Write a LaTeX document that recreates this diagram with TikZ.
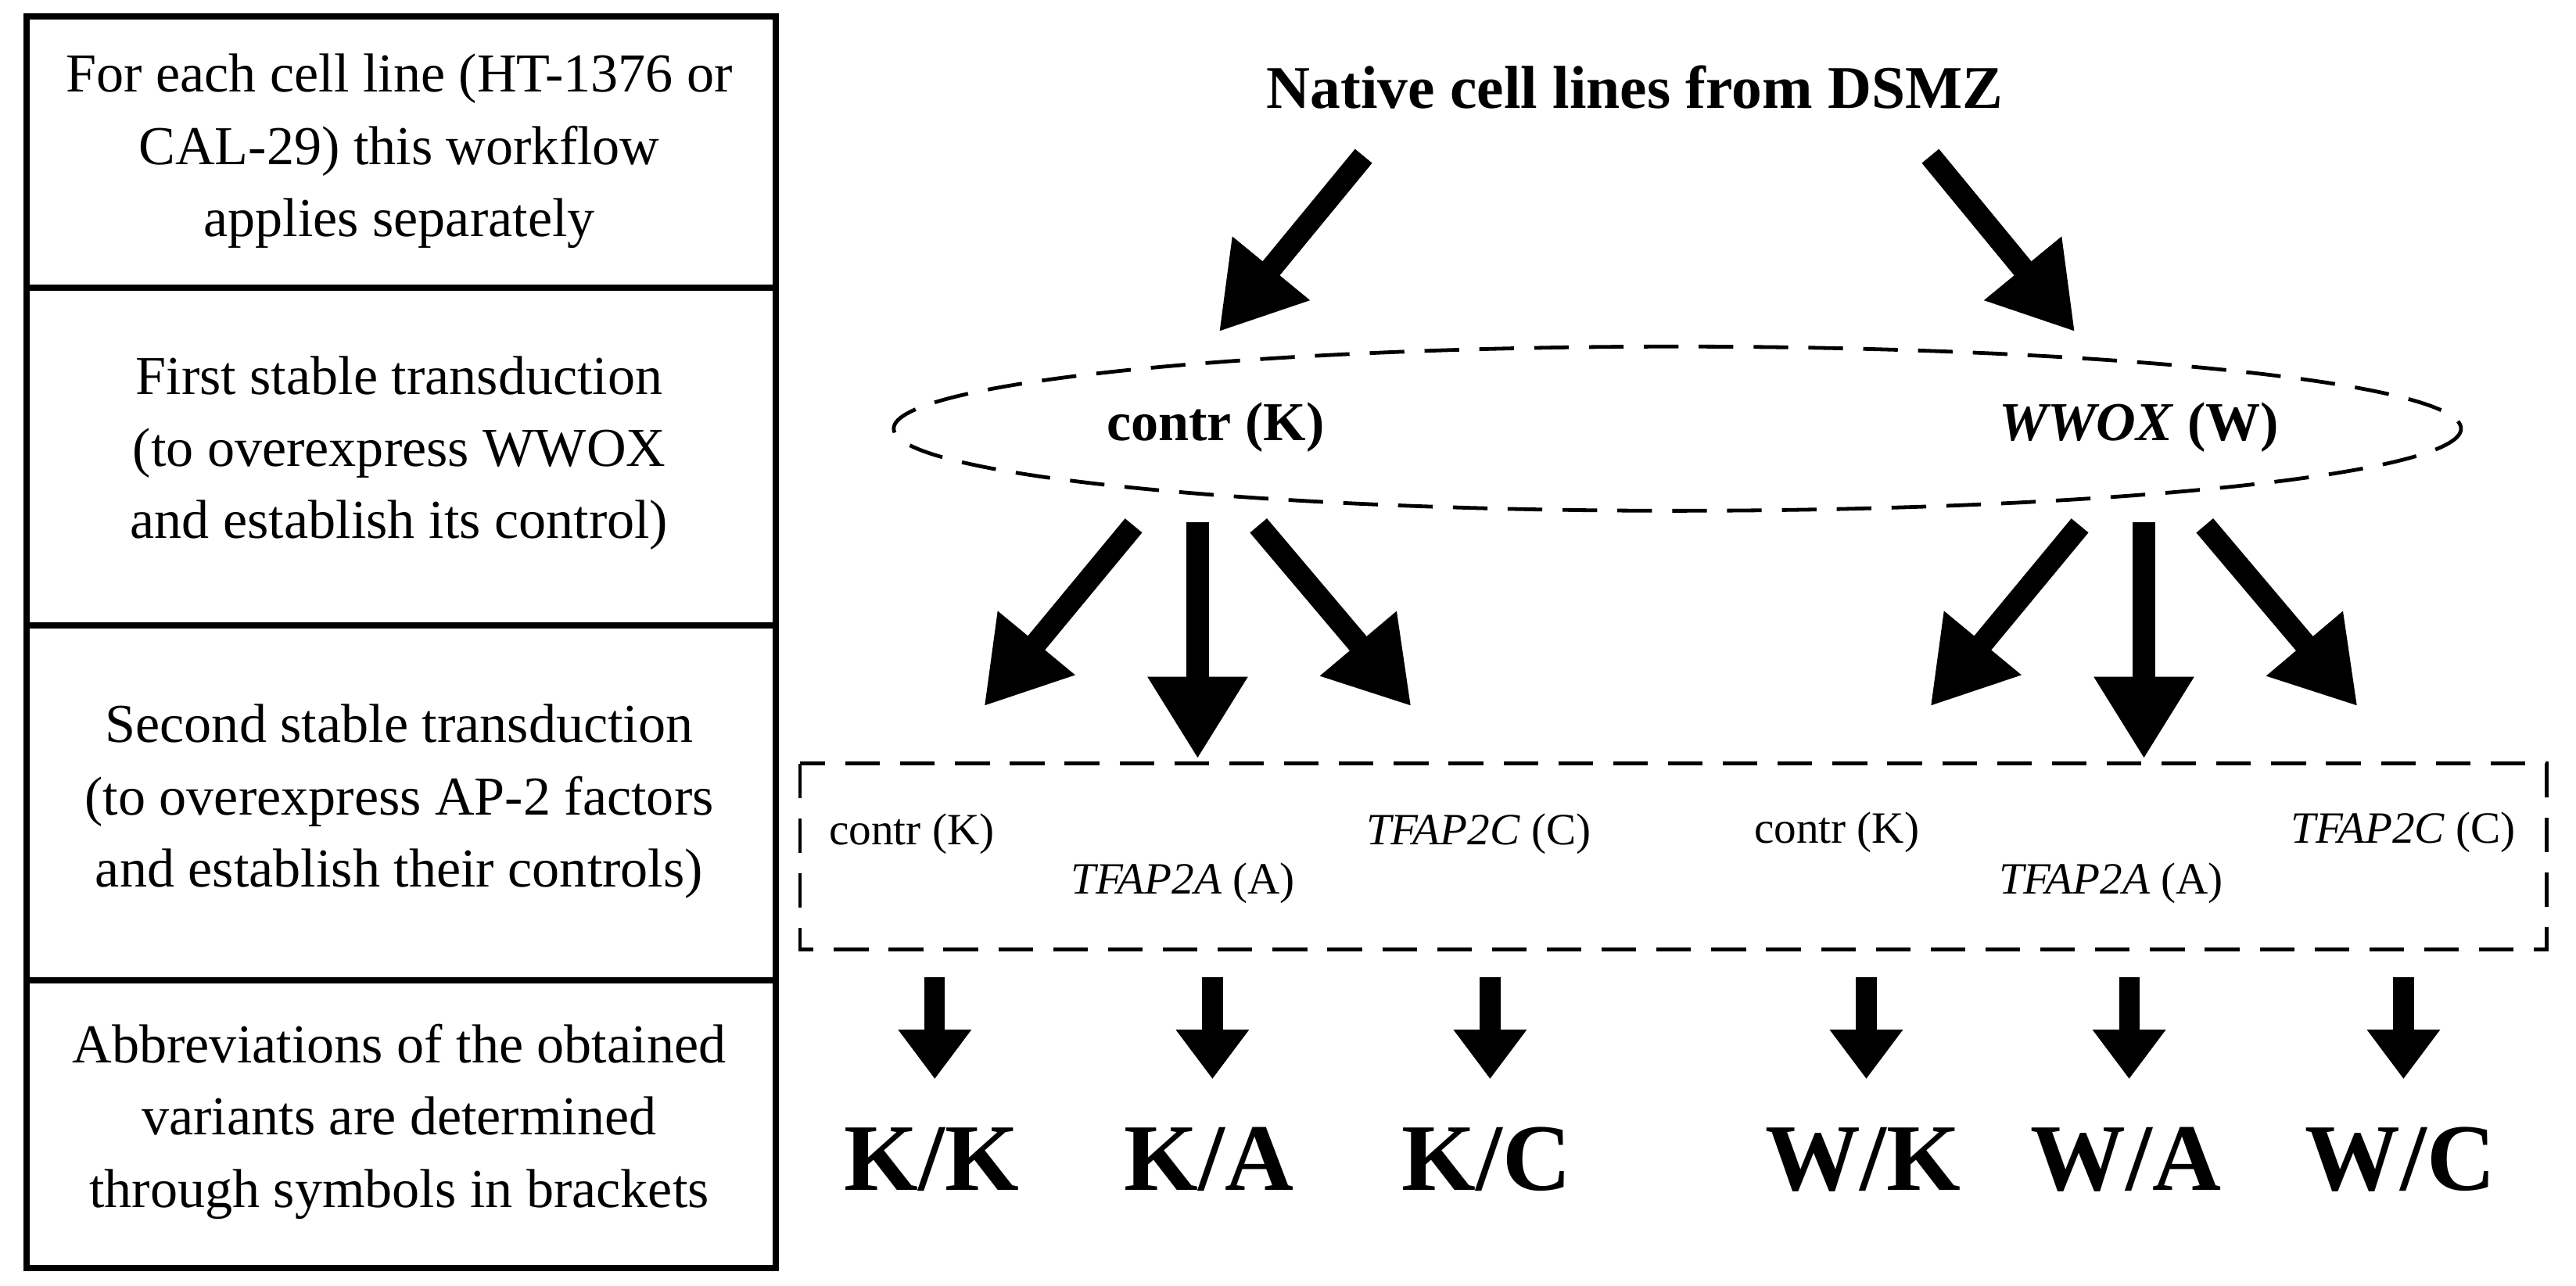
\documentclass[tikz,border=0pt]{standalone}
\usepackage{fontspec}
\setmainfont{Liberation Serif}
\usetikzlibrary{arrows.meta}
\begin{document}
\begin{tikzpicture}[x=0.02cm,y=-0.02cm,
  big/.style={line width=0.27cm,-{Triangle[length=1.0cm,width=1.15cm]}},
  small/.style={line width=0.25cm,-{Triangle[length=0.6cm,width=0.85cm]}},
  lt/.style={align=center,font=\fontsize{19}{25}\selectfont},
  bl/.style={font=\fontsize{15.5}{18}\selectfont},
  res/.style={font=\fontsize{33}{36}\selectfont\bfseries},
  dashline/.style={line width=1.3pt,dash pattern=on 12pt off 7pt}]
\useasboundingbox (0,0) rectangle (1568,782.6);
% left table
\draw[line width=2.2pt] (16,10) rectangle (472,772);
\draw[line width=2.2pt] (16,175) -- (472,175) (16,381) -- (472,381) (16,597) -- (472,597);
\node[lt] (t1) at (243,92) {For each cell line (HT-1376 or\\CAL-29) this workflow\\applies separately};
\node[lt] (t2) at (243,276) {First stable transduction\\(to overexpress WWOX\\and establish its control)};
\node[lt] (t3) at (243,488) {Second stable transduction\\(to overexpress AP-2 factors\\and establish their controls)};
\node[lt] (t4) at (243,683) {Abbreviations of the obtained\\variants are determined\\through symbols in brackets};
% title
\node[font=\fontsize{21}{24}\selectfont\bfseries] (title) at (995,53) {Native cell lines from DSMZ};
\coordinate (s1) at (830,95); \coordinate (e1) at (742,202);
\coordinate (s2) at (1175,95); \coordinate (e2) at (1263,202);
\draw[big] (s1) -- (e1);
\draw[big] (s2) -- (e2);
% ellipse
\draw[dashline] (1021,261) ellipse [x radius=477, y radius=50];
\node[font=\fontsize{19}{22}\selectfont\bfseries] (K) at (740,260) {contr (K)};
\node[font=\fontsize{19}{22}\selectfont\bfseries] (W) at (1302,260) {\textit{WWOX} (W)};
% second arrows
\foreach \x/\n in {729/L,1305/R}{
  \coordinate (\n a) at (\x-39,320); \coordinate (\n ae) at (\x-130,430);
  \coordinate (\n b) at (\x,318);   \coordinate (\n be) at (\x,462);
  \coordinate (\n c) at (\x+37,320); \coordinate (\n ce) at (\x+130,430);
  \draw[big] (\n a) -- (\n ae);
  \draw[big] (\n b) -- (\n be);
  \draw[big] (\n c) -- (\n ce);
}
% dashed box
\draw[dashline] (487,465) rectangle (1550,578);
\node[bl] (k1) at (555,508) {contr (K)};
\node[bl] (a1) at (720,538) {\textit{TFAP2A} (A)};
\node[bl] (c1) at (900,508) {\textit{TFAP2C} (C)};
\node[bl] (k2) at (1118,507) {contr (K)};
\node[bl] (a2) at (1285,538) {\textit{TFAP2A} (A)};
\node[bl] (c2) at (1463,507) {\textit{TFAP2C} (C)};
% small arrows and results
\foreach \x/\t/\n in {569/K\slash K/r1,738/K\slash A/r2,907/K\slash C/r3,1136/W\slash K/r4,1296/W\slash A/r5,1463/W\slash C/r6}{
  \coordinate (\n s) at (\x,595); \coordinate (\n e) at (\x,657);
  \draw[small] (\n s) -- (\n e);
  \node[res] (\n) at (\x-2,706) {\t};
}
\end{tikzpicture}
\end{document}
